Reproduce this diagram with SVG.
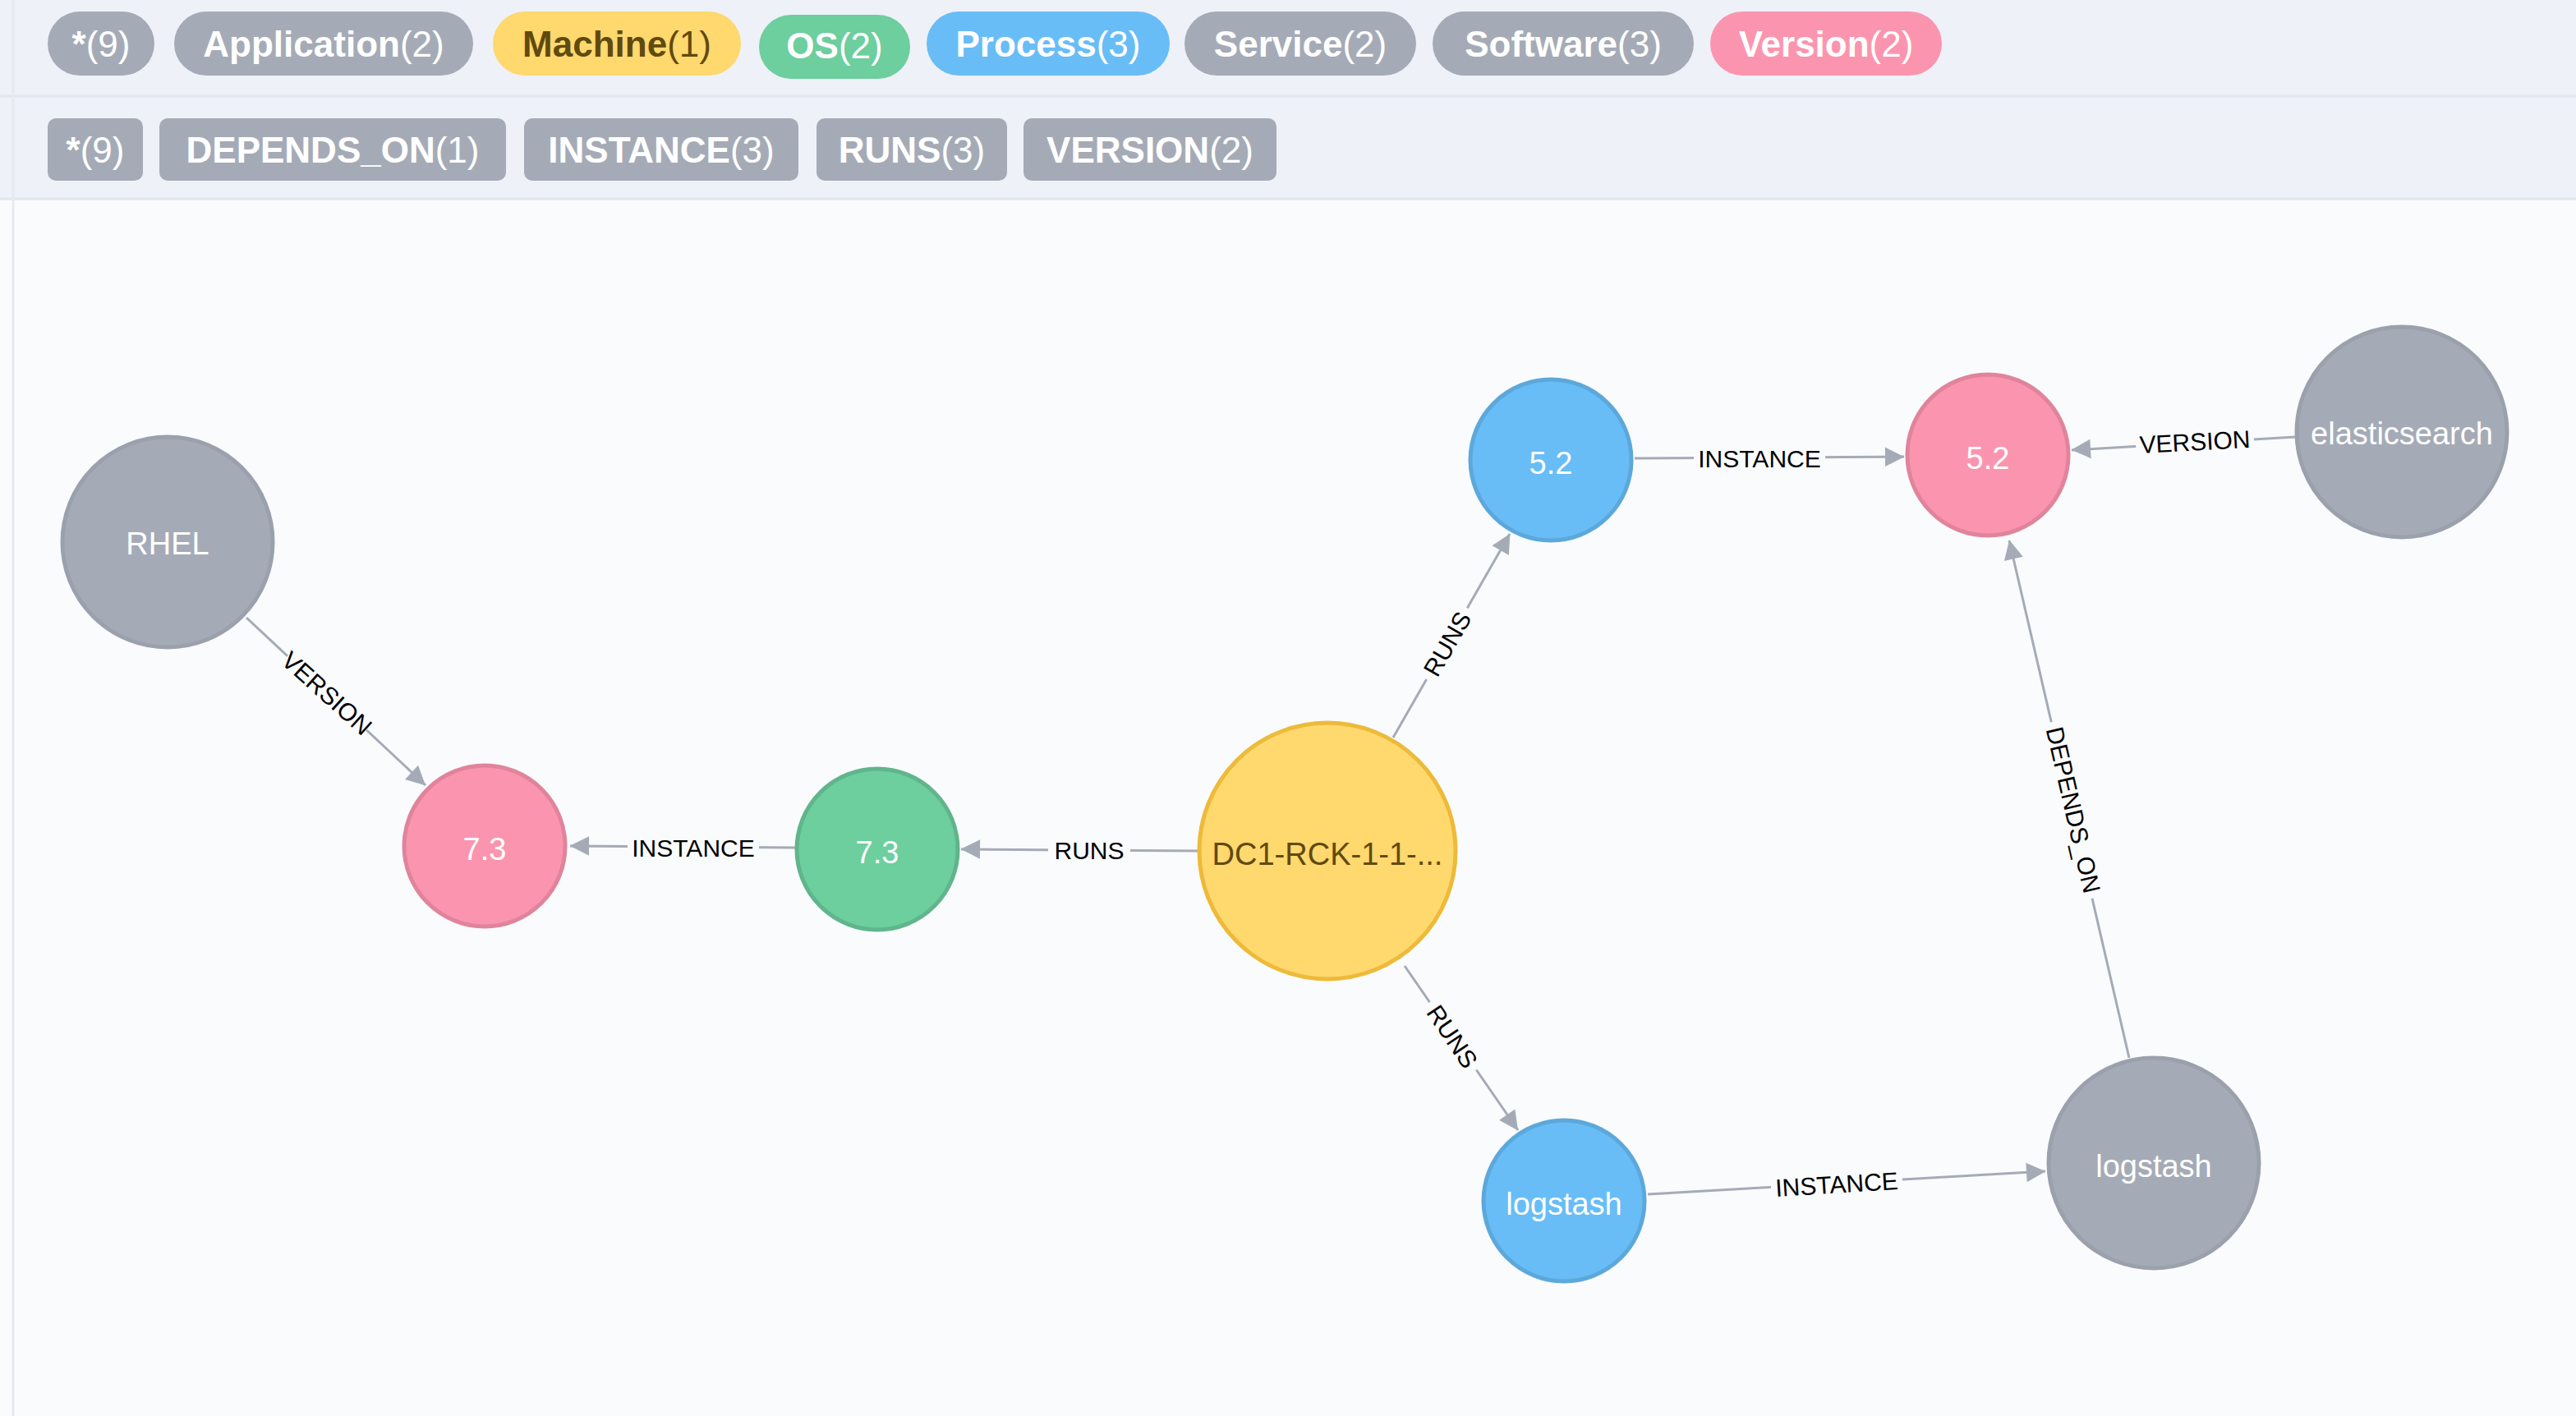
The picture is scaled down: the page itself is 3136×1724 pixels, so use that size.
<svg xmlns="http://www.w3.org/2000/svg" width="3136" height="1724" viewBox="0 0 3136 1724">
<style>
.pill{font-family:"Liberation Sans",Arial,sans-serif;font-size:44px;fill:#fff;text-anchor:middle;dominant-baseline:central}
.pill tspan.c{font-weight:normal}
.b{font-weight:bold}
.nt{font-family:"Liberation Sans",Arial,sans-serif;font-size:38px;fill:#fff;text-anchor:middle;dominant-baseline:central}
.el{font-family:"Liberation Sans",Arial,sans-serif;font-size:30px;fill:#000;text-anchor:middle;dominant-baseline:central}
.edge{stroke:#a5abb6;stroke-width:3;fill:none;marker-end:url(#ah)}
.lb{fill:#fafbfd}
.gray{fill:#a5abb6;stroke:#9aa1ac;stroke-width:5}
.pink{fill:#fb95af;stroke:#e0849b;stroke-width:5}
.green{fill:#6dce9e;stroke:#60b58b;stroke-width:5}
.blue{fill:#68bdf6;stroke:#5ca8db;stroke-width:5}
.yellow{fill:#ffd86e;stroke:#edba39;stroke-width:5}
</style>
<defs>
<marker id="ah" viewBox="0 0 10 10" refX="10" refY="5" markerWidth="9" markerHeight="9" markerUnits="userSpaceOnUse" orient="auto" style="overflow:visible">
<path d="M0,0 L10,5 L0,10 z" fill="#a5abb6" transform="scale(2.6) translate(-6,-3)"/>
</marker>
</defs>
<rect width="3136" height="1724" fill="#fafbfd"/>
<rect x="0" y="0" width="3136" height="244" fill="#eef1f8"/>
<line x1="0" y1="117" x2="3136" y2="117" stroke="#e2e6ee" stroke-width="3"/>
<line x1="0" y1="242" x2="3136" y2="242" stroke="#e2e6ee" stroke-width="3"/>
<line x1="16" y1="0" x2="16" y2="1724" stroke="#e6e9ef" stroke-width="3"/>
<g id="legend-labels">
<rect x="58" y="14" width="130" height="78" rx="39" fill="#a5abb6"/><text class="pill" x="123" y="53"><tspan class="b">*</tspan>(9)</text>
<rect x="212" y="14" width="364" height="78" rx="39" fill="#a5abb6"/><text class="pill" x="394" y="53"><tspan class="b">Application</tspan>(2)</text>
<rect x="600" y="14" width="302" height="78" rx="39" fill="#ffd86e"/><text class="pill" x="751" y="53" fill="#604a0e" style="fill:#604a0e"><tspan class="b">Machine</tspan>(1)</text>
<rect x="924" y="18" width="184" height="78" rx="39" fill="#6dce9e"/><text class="pill" x="1016" y="55"><tspan class="b">OS</tspan>(2)</text>
<rect x="1128" y="14" width="296" height="78" rx="39" fill="#68bdf6"/><text class="pill" x="1276" y="53"><tspan class="b">Process</tspan>(3)</text>
<rect x="1442" y="14" width="282" height="78" rx="39" fill="#a5abb6"/><text class="pill" x="1583" y="53"><tspan class="b">Service</tspan>(2)</text>
<rect x="1744" y="14" width="318" height="78" rx="39" fill="#a5abb6"/><text class="pill" x="1903" y="53"><tspan class="b">Software</tspan>(3)</text>
<rect x="2082" y="14" width="282" height="78" rx="39" fill="#fb95af"/><text class="pill" x="2223" y="53"><tspan class="b">Version</tspan>(2)</text>
</g>
<g id="legend-types">
<rect x="58" y="144" width="116" height="76" rx="10" fill="#a5abb6"/><text class="pill" x="116" y="182"><tspan class="b">*</tspan>(9)</text>
<rect x="194" y="144" width="422" height="76" rx="10" fill="#a5abb6"/><text class="pill" x="405" y="182"><tspan class="b">DEPENDS_ON</tspan>(1)</text>
<rect x="638" y="144" width="334" height="76" rx="10" fill="#a5abb6"/><text class="pill" x="805" y="182"><tspan class="b">INSTANCE</tspan>(3)</text>
<rect x="994" y="144" width="232" height="76" rx="10" fill="#a5abb6"/><text class="pill" x="1110" y="182"><tspan class="b">RUNS</tspan>(3)</text>
<rect x="1246" y="144" width="308" height="76" rx="10" fill="#a5abb6"/><text class="pill" x="1400" y="182"><tspan class="b">VERSION</tspan>(2)</text>
</g>
<g id="connectors">
<line class="edge" x1="300" y1="752" x2="518" y2="956"/>
<g transform="translate(398,844) rotate(42)"><rect class="lb" x="-66" y="-18" width="132" height="36"/><text class="el">VERSION</text></g>
<line class="edge" x1="968" y1="1032" x2="694" y2="1030"/>
<g transform="translate(844,1032)"><rect class="lb" x="-80" y="-18" width="160" height="36"/><text class="el">INSTANCE</text></g>
<line class="edge" x1="1458" y1="1036" x2="1170" y2="1034"/>
<g transform="translate(1326,1035)"><rect class="lb" x="-50" y="-18" width="100" height="36"/><text class="el">RUNS</text></g>
<line class="edge" x1="1696" y1="898" x2="1838" y2="650"/>
<g transform="translate(1762,784) rotate(-60)"><rect class="lb" x="-50" y="-18" width="100" height="36"/><text class="el">RUNS</text></g>
<line class="edge" x1="1990" y1="558" x2="2318" y2="556"/>
<g transform="translate(2142,558)"><rect class="lb" x="-80" y="-18" width="160" height="36"/><text class="el">INSTANCE</text></g>
<line class="edge" x1="2794" y1="532" x2="2522" y2="548"/>
<g transform="translate(2672,538) rotate(-3)"><rect class="lb" x="-72" y="-18" width="144" height="36"/><text class="el">VERSION</text></g>
<line class="edge" x1="1710" y1="1176" x2="1848" y2="1376"/>
<g transform="translate(1768,1262) rotate(56)"><rect class="lb" x="-50" y="-18" width="100" height="36"/><text class="el">RUNS</text></g>
<line class="edge" x1="2006" y1="1454" x2="2490" y2="1426"/>
<g transform="translate(2236,1442) rotate(-3.5)"><rect class="lb" x="-80" y="-18" width="160" height="36"/><text class="el">INSTANCE</text></g>
<line class="edge" x1="2592" y1="1288" x2="2446" y2="658"/>
<g transform="translate(2524,986) rotate(77)"><rect class="lb" x="-110" y="-18" width="220" height="36"/><text class="el">DEPENDS_ON</text></g>
</g>
<g id="n-rhel"><circle class="gray" cx="204" cy="660" r="128"/><text class="nt" x="204" y="662">RHEL</text></g>
<g id="n-ver73"><circle class="pink" cx="590" cy="1030" r="98"/><text class="nt" x="590" y="1034">7.3</text></g>
<g id="n-os73"><circle class="green" cx="1068" cy="1034" r="98"/><text class="nt" x="1068" y="1038">7.3</text></g>
<g id="n-dc1"><circle class="yellow" cx="1616" cy="1036" r="156"/><text class="nt" x="1616" y="1040" style="fill:#604a0e">DC1-RCK-1-1-...</text></g>
<g id="n-proc52"><circle class="blue" cx="1888" cy="560" r="98"/><text class="nt" x="1888" y="564">5.2</text></g>
<g id="n-ver52"><circle class="pink" cx="2420" cy="554" r="98"/><text class="nt" x="2420" y="558">5.2</text></g>
<g id="n-elastic"><circle class="gray" cx="2924" cy="526" r="128"/><text class="nt" x="2924" y="528">elasticsearch</text></g>
<g id="n-proclog"><circle class="blue" cx="1904" cy="1462" r="98"/><text class="nt" x="1904" y="1466">logstash</text></g>
<g id="n-applog"><circle class="gray" cx="2622" cy="1416" r="128"/><text class="nt" x="2622" y="1420">logstash</text></g>
</svg>
